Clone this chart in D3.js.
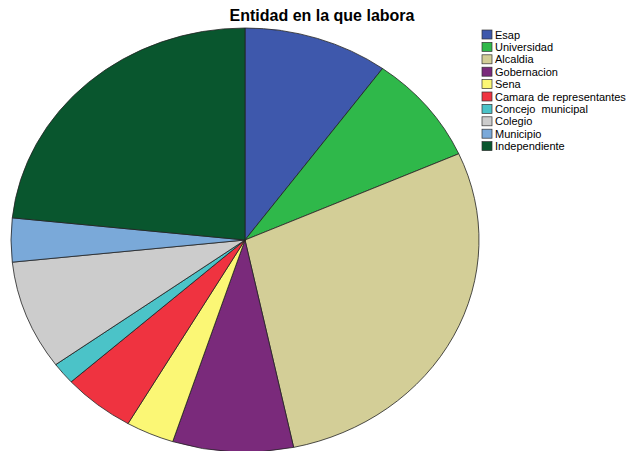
<!DOCTYPE html>
<html>
<head>
<meta charset="utf-8">
<script src="https://cdn.jsdelivr.net/npm/d3@7"></script>
<style>
body { margin: 0; background: #fff; }
svg { display: block; }
</style>
</head>
<body>
<div id="chart"></div>
<script>
const categories = ["Esap", "Universidad", "Alcaldia", "Gobernacion", "Sena", "Camara de representantes", "Concejo  municipal", "Colegio", "Municipio", "Independiente"]
const counts = [6, 5, 17, 5, 2, 3, 1, 5, 2, 14]
const colors = ["#3e58ac", "#2fb84a", "#d3ce97", "#7a2a7b", "#fbf775", "#ef3340", "#4bc3c8", "#cccccc", "#7aa9d9", "#09562e"]

const width = 626, height = 451
const cx = 245, cy = 240, rx = 234, ry = 212

const svg = d3.select("#chart").append("svg")
    .attr("width", width).attr("height", height)

svg.append("text")
    .attr("x", 322).attr("y", 21)
    .attr("text-anchor", "middle")
    .style("font-family", "Liberation Sans, Arial, sans-serif")
    .style("font-weight", "bold")
    .style("font-size", "16px")
    .text("Entidad en la que labora")

const data = categories.map((c, i) => ({ name: c, value: counts[i], color: colors[i] }))
const pie = d3.pie().value(d => d.value).sort(null)
const arc = d3.arc().innerRadius(0).outerRadius(rx)

// ellipse: draw the circle then squash vertically
const g = svg.append("g")
    .attr("transform", `translate(${cx},${cy}) scale(1,${ry / rx})`)

g.selectAll("path")
    .data(pie(data))
    .join("path")
    .attr("d", arc)
    .attr("fill", d => d.data.color)
    .attr("stroke", "#222")
    .attr("stroke-width", 0.8)
    .attr("vector-effect", "non-scaling-stroke")

const legend = svg.append("g").attr("transform", "translate(482,30)")
const row = legend.selectAll("g")
    .data(data)
    .join("g")
    .attr("transform", (d, i) => `translate(0,${i * 12.4})`)

row.append("rect")
    .attr("width", 10).attr("height", 9)
    .attr("fill", d => d.color)
    .attr("stroke", "#333")
    .attr("stroke-width", 0.7)

row.append("text")
    .attr("x", 13).attr("y", 8.5)
    .style("font-family", "Liberation Sans, Arial, sans-serif")
    .style("font-size", "11px")
    .style("white-space", "pre")
    .text(d => d.name)
</script>
</body>
</html>
